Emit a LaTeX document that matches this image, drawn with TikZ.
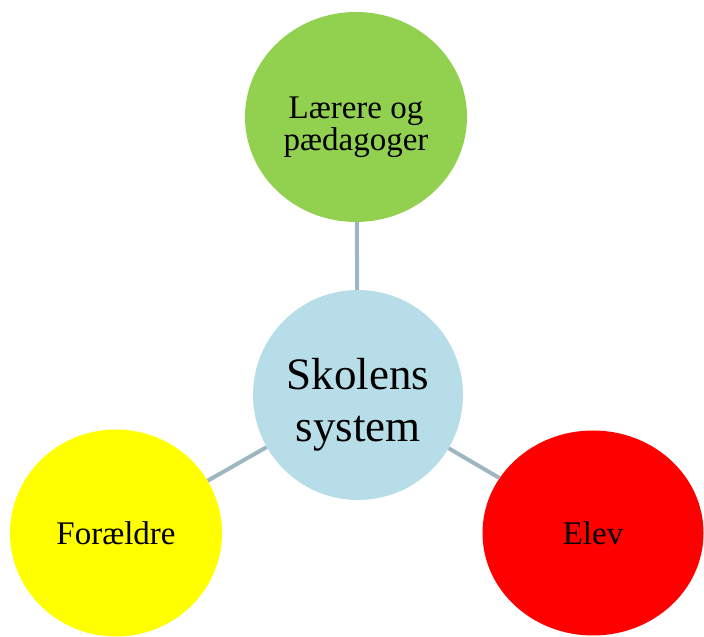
\documentclass[tikz,border=0pt]{standalone}
\usepackage{fontspec}
\setmainfont{Liberation Serif}
\usetikzlibrary{shapes.geometric}
\definecolor{skoleblaa}{HTML}{B7DEE8}
\definecolor{laerergroen}{HTML}{92D050}
\definecolor{foraeldregul}{HTML}{FFFF00}
\definecolor{elevroed}{HTML}{FF0000}
\definecolor{linjegraa}{HTML}{9DB6C0}
\begin{document}
\begin{tikzpicture}[
    x=1pt, y=1pt,
    every node/.style={ellipse, inner sep=0pt, align=center, text=black},
    midte/.style={fill=skoleblaa, minimum width=210pt, minimum height=210pt, font=\fontsize{45}{52}\selectfont}, % Skolens system i midten
    aktoer/.style={font=\fontsize{33}{30}\selectfont}, % Cirklerne rundt om
    forbindelse/.style={draw=linjegraa, line width=4pt} % Linjer mellem cirklerne
]
\useasboundingbox (0,0) rectangle (704,637);
\node[midte] (skole) at (358,242) {\raisebox{-16pt}[0pt][0pt]{\begin{tabular}{@{}c@{}}Skolens\\system\end{tabular}}};
\node[aktoer, fill=laerergroen, minimum width=222pt, minimum height=210pt] (laerer) at (356,520) {\raisebox{-17pt}[0pt][0pt]{\begin{tabular}{@{}c@{}}Lærere og\\pædagoger\end{tabular}}};
\node[aktoer, fill=foraeldregul, minimum width=212pt, minimum height=207pt] (foraeldre) at (116,104) {Forældre};
\node[aktoer, fill=elevroed, minimum width=221pt, minimum height=205pt] (elev) at (593,104) {Elev};
\draw[forbindelse] (skole) -- (laerer);
\draw[forbindelse] (skole) -- (foraeldre);
\draw[forbindelse] (skole) -- (elev);
\end{tikzpicture}
\end{document}
